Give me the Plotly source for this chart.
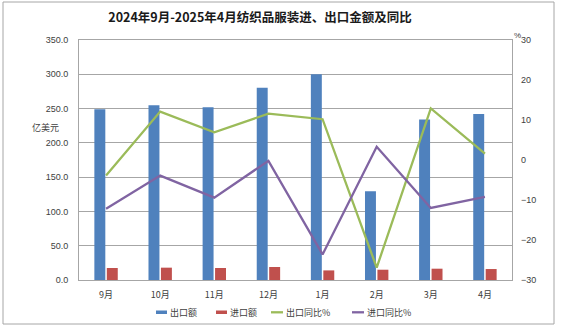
import plotly.graph_objects as go

months = ["9月", "10月", "11月", "12月", "1月", "2月", "3月", "4月"]
export_amt = [249.0, 255.0, 252.0, 280.5, 300.0, 129.5, 234.0, 242.0]
import_amt = [17.5, 18.0, 17.5, 19.0, 14.0, 15.0, 16.5, 16.0]
export_yoy = [-3.9, 12.1, 6.9, 11.6, 10.2, -26.9, 12.9, 1.6]
import_yoy = [-12.2, -3.9, -9.4, -0.2, -23.6, 3.3, -12.0, -9.2]

series_names = ["出口额", "进口额", "出口同比%", "进口同比%"]
series_colors = ["#4f81bd", "#c0504d", "#9bbb59", "#8064a2"]

cjk = "Noto Sans CJK SC"
num_font = "Liberation Sans"
grid = "#a6a6a6"
txt = "#404040"

W, H = 561, 336
L, R, T, B = 79, 49, 40, 56
pw, ph = W - L - R, H - T - B


def px_x(x):
    return (x - L) / pw


def px_y(y):
    return (H - B - y) / ph


fig = go.Figure()
fig.add_trace(go.Bar(x=months, y=export_amt, name=series_names[0],
                     marker=dict(color=series_colors[0], line=dict(width=0))))
fig.add_trace(go.Bar(x=months, y=import_amt, name=series_names[1],
                     marker=dict(color=series_colors[1], line=dict(width=0))))
fig.add_trace(go.Scatter(x=months, y=export_yoy, name=series_names[2], yaxis="y2",
                         mode="lines", line=dict(color=series_colors[2], width=2.3)))
fig.add_trace(go.Scatter(x=months, y=import_yoy, name=series_names[3], yaxis="y2",
                         mode="lines", line=dict(color=series_colors[3], width=2.3)))

# hand-drawn legend row below the plot
legend_pos = [156, 216, 271, 352]
shapes = [
    dict(type="rect", xref="paper", yref="paper",
         x0=px_x(3), x1=px_x(554), y0=px_y(324), y1=px_y(2),
         line=dict(color=grid, width=1), layer="below"),
]
annotations = [
    dict(text="亿美元", x=px_x(30), y=px_y(127), xref="paper", yref="paper",
         showarrow=False, font=dict(family=cjk, size=9, color=txt)),
    dict(text="%", x=px_x(523), y=px_y(29), xref="paper", yref="paper",
         showarrow=False, font=dict(family=num_font, size=8, color=txt)),
]
for i, (name, color, x0) in enumerate(zip(series_names, series_colors, legend_pos)):
    if i < 2:
        shapes.append(dict(type="rect", xref="paper", yref="paper",
                           x0=px_x(x0), x1=px_x(x0 + 11),
                           y0=px_y(314), y1=px_y(310.5),
                           fillcolor=color, line=dict(width=0)))
    else:
        shapes.append(dict(type="line", xref="paper", yref="paper",
                           x0=px_x(x0), x1=px_x(x0 + 12),
                           y0=px_y(312.3), y1=px_y(312.3),
                           line=dict(color=color, width=2.3)))
    annotations.append(dict(text=name, x=px_x(x0 + (12 if i < 2 else 13)),
                            y=px_y(312), xref="paper", yref="paper",
                            xanchor="left", yanchor="middle", showarrow=False,
                            font=dict(family=cjk, size=9, color=txt)))

fig.update_layout(
    width=W, height=H,
    margin=dict(l=L, r=R, t=T, b=B),
    paper_bgcolor="white", plot_bgcolor="white",
    barmode="group", bargap=0.54, bargroupgap=0.12,
    showlegend=False,
    font=dict(family=cjk, size=9, color=txt),
    title=dict(text="<b>2024年9月-2025年4月纺织品服装进、出口金额及同比</b>",
               x=px_x(260), xref="paper", xanchor="center",
               y=1 - 18 / H, yanchor="middle",
               font=dict(family=cjk, size=12.5, color="#1a1a1a")),
    xaxis=dict(showline=True, linecolor=grid, linewidth=1, mirror=True,
               ticks="", ticklabelstandoff=6,
               tickfont=dict(family=cjk, size=9, color=txt),
               showgrid=False),
    yaxis=dict(range=[0, 350], dtick=50, tickformat=".1f",
               showgrid=True, gridcolor=grid, gridwidth=1,
               showline=True, linecolor=grid, linewidth=1, mirror=True,
               ticks="", ticklabelstandoff=8,
               tickfont=dict(family=num_font, size=9, color=txt),
               zeroline=False),
    yaxis2=dict(range=[-30, 30], dtick=10, overlaying="y", side="right",
                showgrid=False, zeroline=False, showline=False,
                ticks="", ticklabelstandoff=8,
                tickfont=dict(family=num_font, size=9, color=txt)),
    annotations=annotations,
    shapes=shapes,
)

fig.write_html("out.html")
